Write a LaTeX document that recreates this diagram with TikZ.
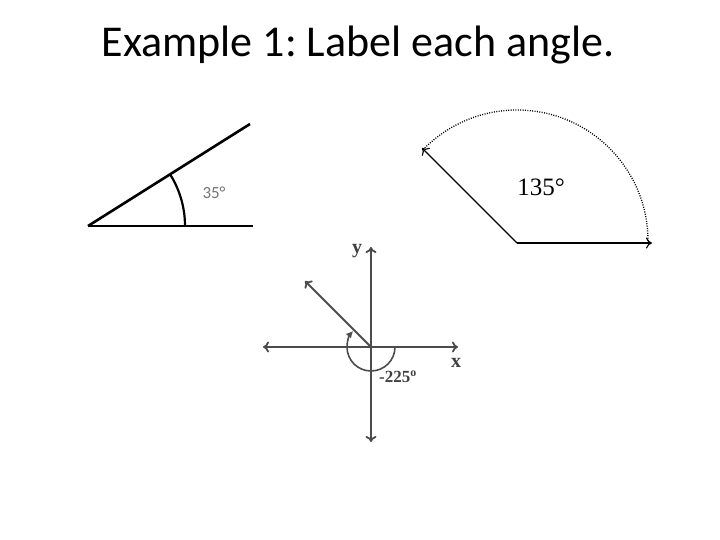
\documentclass[tikz,border=0pt]{standalone}
\usepackage{fontspec}
\setmainfont{Carlito}
\newfontfamily\timesfont{Liberation Serif}
\usepackage{tikz}
\usetikzlibrary{arrows,arrows.meta}
\tikzstyle{ray} = [black, line width=2.6pt]
\tikzstyle{vec} = [-{To[length=6pt,width=11pt]}, black, line width=1.1pt]
\tikzstyle{axis} = [{To[length=6pt,width=11pt]}-{To[length=6pt,width=11pt]}, black!70, line width=1.8pt]
\tikzstyle{lbl} = [inner sep=0pt]

\begin{document}
\frenchspacing
\begin{tikzpicture}[x=1pt,y=1pt]
  \useasboundingbox (0,0) rectangle (720,540);
  % Title
  \node [lbl] (title) at (358,495) {\fontsize{44}{52}\selectfont Example 1: Label each angle.};
  % Place points
  \coordinate (A) at (88,314);
  \coordinate (Aend) at (253,314);
  \coordinate (Aray) at (250,416);
  \coordinate (Astart) at (185,314);
  \coordinate (O) at (517,297);
  \coordinate (Oend) at (652,297);
  \coordinate (Oray) at (422,392);
  \coordinate (Ostart) at (648,299);
  \coordinate (Z) at (371,193);
  \coordinate (Ztop) at (371,293);
  \coordinate (Zbot) at (371,98);
  \coordinate (Zleft) at (263,193);
  \coordinate (Zright) at (458,193);
  \coordinate (Zray) at (305,259);
  \coordinate (Zstart) at (395,193);
  % Draw first angle
  \draw[ray] (A) -- (Aend);
  \draw[ray] (A) -- (Aray);
  \draw[black, line width=2.2pt] (Astart) arc (0:32:97);
  \node [lbl, text=black!55] (a35) at (214,347) {\fontsize{17}{20}\selectfont 35°};
  % Draw second angle
  \draw[vec] (O) -- (Oend);
  \draw[vec] (O) -- (Oray);
  \draw[black, line width=1.3pt, dash pattern=on 1pt off 1.4pt] (Ostart) arc (0:135:131);
  \node [lbl] (a135) at (541,353) {\timesfont\fontsize{25}{30}\selectfont 135°};
  % Draw axes
  \draw[axis] (Zbot) -- (Ztop);
  \draw[axis] (Zleft) -- (Zright);
  \draw[-{To[length=6pt,width=11pt]}, black!70, line width=1.8pt] (Z) -- (Zray);
  \draw[-{Latex[length=7pt,width=7pt]}, black!70, line width=1.6pt] (Zstart) arc (0:-222:24);
  \node [lbl, text=black!75] (ylbl) at (357,289) {\timesfont\bfseries\fontsize{20}{22}\selectfont y};
  \node [lbl, text=black!75] (xlbl) at (456,177) {\timesfont\bfseries\fontsize{20}{22}\selectfont x};
  \node [lbl, text=black!75] (a225) at (398,163) {\timesfont\bfseries\fontsize{17}{19}\selectfont -225\textsuperscript{o}};
\end{tikzpicture}
\end{document}
